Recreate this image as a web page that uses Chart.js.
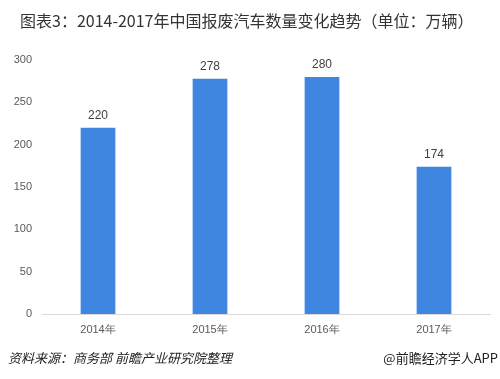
<!DOCTYPE html>
<html><head><meta charset="utf-8">
<script src="https://cdn.jsdelivr.net/npm/chart.js@4/dist/chart.umd.min.js"></script>
<style>
html,body{margin:0;padding:0;background:#fff;width:500px;height:379px;overflow:hidden;}
#wrap{position:absolute;left:0;top:0;width:500px;height:379px;}
#title{position:absolute;left:20px;top:8px;font:16px "Noto Sans CJK SC","Noto Sans",sans-serif;color:#333;white-space:nowrap;}
#src{position:absolute;left:8px;top:348px;font:italic 13px "Noto Sans CJK SC",sans-serif;color:#222;white-space:nowrap;}
#app{position:absolute;right:2px;top:348px;font:13px "Noto Sans CJK SC",sans-serif;color:#222;white-space:nowrap;}
</style></head>
<body>
<div id="wrap"><canvas id="c" width="500" height="379"></canvas></div>
<div id="title">图表3：2014-2017年中国报废汽车数量变化趋势（单位：万辆）</div>
<div id="src">资料来源：商务部 前瞻产业研究院整理</div>
<div id="app">@前瞻经济学人APP</div>
<script>
const categories = ["2014年","2015年","2016年","2017年"];
const values = [220, 278, 280, 174];
const yTicks = [0,50,100,150,200,250,300];

const labelPlugin = {
  id:'labels',
  afterDatasetsDraw(chart){
    const ctx = chart.ctx;
    const meta = chart.getDatasetMeta(0);
    ctx.save();
    ctx.font = '12px "Liberation Sans", Arial, sans-serif';
    ctx.fillStyle = '#404040';
    ctx.textAlign = 'center';
    ctx.textBaseline = 'bottom';
    meta.data.forEach((bar,i)=>{
      ctx.fillText(String(values[i]), bar.x, bar.y - 6);
    });
    ctx.restore();
  }
};

new Chart(document.getElementById('c'), {
  type:'bar',
  data:{labels:categories, datasets:[{data:values, backgroundColor:'#3f86e0', barPercentage:0.31, categoryPercentage:1}]},
  options:{
    responsive:false, animation:false,
    layout:{padding:{top:60,left:0,right:10,bottom:30}},
    plugins:{legend:{display:false},tooltip:{enabled:false},title:{display:false}},
    scales:{
      x:{
        grid:{display:false, drawTicks:false},
        border:{display:true,color:'#d9d9d9'},
        ticks:{color:'#595959',font:{size:11,family:'"Liberation Sans", Arial, sans-serif'},padding:9},
        afterFit(s){s.height=35;}
      },
      y:{
        min:0,max:300,
        afterBuildTicks(s){s.ticks = yTicks.map(v=>({value:v}));},
        grid:{display:false, drawTicks:false},
        border:{display:false},
        ticks:{color:'#595959',font:{size:11,family:'"Liberation Sans", Arial, sans-serif'},padding:10},
        afterFit(s){s.width=42;}
      }
    }
  },
  plugins:[labelPlugin]
});
</script>
</body></html>
